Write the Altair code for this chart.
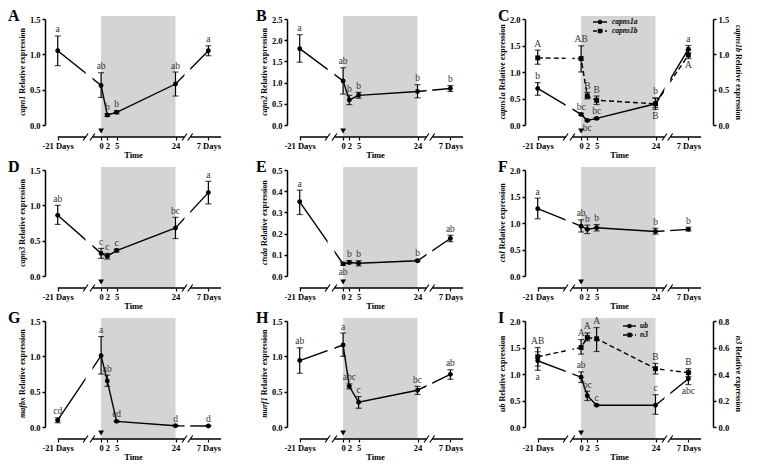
import altair as alt
import pandas as pd

FONT = "Liberation Serif"

# ---------------- shared x layout (broken time axis) ----------------
TIME_LABELS = ["-21 Days", "0", "2", "5", "24", "7 Days"]
TIME_POS = [-14.0, 0.0, 2.0, 5.0, 24.0, 34.6]
SHADE = [0.0, 24.0]
BREAKS = [-5.0, -2.8, 26.9, 28.75]
AXIS_SEG_START = [-14.0, -2.8, 28.75]
AXIS_SEG_END = [-5.0, 26.9, 38.7]

# ---------------- data ----------------
# A capn1
capn1_mean = [1.05, 0.56, 0.14, 0.18, 0.58, 1.05]
capn1_lo = [0.84, 0.39, 0.12, 0.16, 0.41, 0.98]
capn1_hi = [1.26, 0.74, 0.16, 0.20, 0.75, 1.12]
capn1_sig = ["a", "ab", "b", "b", "ab", "a"]
capn1_side = ["up", "up", "up", "up", "up", "up"]

# B capn2
capn2_mean = [1.80, 1.04, 0.59, 0.70, 0.79, 0.86]
capn2_lo = [1.48, 0.73, 0.48, 0.63, 0.64, 0.79]
capn2_hi = [2.13, 1.35, 0.70, 0.77, 0.95, 0.93]
capn2_sig = ["a", "ab", "b", "b", "b", "b"]
capn2_side = ["up", "up", "up", "up", "up", "up"]

# C capns1a (left axis) and capns1b (right axis)
capns1a_mean = [0.69, 0.20, 0.085, 0.125, 0.40, 1.43]
capns1a_lo = [0.56, 0.18, 0.07, 0.11, 0.33, 1.36]
capns1a_hi = [0.80, 0.22, 0.10, 0.14, 0.51, 1.50]
capns1a_sig = ["b", "bc", "bc", "bc", "b", "a"]
capns1a_side = ["up", "up", "down", "up", "up", "up"]

capns1b_mean = [0.95, 0.94, 0.41, 0.35, 0.30, 0.99]
capns1b_lo = [0.86, 0.75, 0.37, 0.29, 0.22, 0.94]
capns1b_hi = [1.06, 1.12, 0.46, 0.41, 0.38, 1.06]
capns1b_sig = ["A", "AB", "B", "B", "B", "A"]
capns1b_side = ["up", "up", "up", "up", "down", "down"]

# D capn3
capn3_mean = [0.86, 0.32, 0.28, 0.36, 0.68, 1.18]
capn3_lo = [0.73, 0.25, 0.24, 0.34, 0.53, 1.02]
capn3_hi = [1.00, 0.39, 0.32, 0.38, 0.83, 1.34]
capn3_sig = ["ab", "c", "c", "c", "bc", "a"]
capn3_side = ["up", "up", "up", "up", "up", "up"]

# E ctsda
ctsda_mean = [0.35, 0.057, 0.064, 0.060, 0.072, 0.177]
ctsda_lo = [0.29, 0.050, 0.058, 0.048, 0.068, 0.162]
ctsda_hi = [0.405, 0.064, 0.072, 0.072, 0.076, 0.192]
ctsda_sig = ["a", "ab", "b", "b", "b", "ab"]
ctsda_side = ["up", "down", "up", "up", "up", "up"]

# F ctsl
ctsl_mean = [1.27, 0.94, 0.88, 0.91, 0.84, 0.88]
ctsl_lo = [1.08, 0.83, 0.80, 0.85, 0.79, 0.85]
ctsl_hi = [1.47, 1.06, 0.96, 0.97, 0.90, 0.92]
ctsl_sig = ["a", "ab", "b", "b", "b", "b"]
ctsl_side = ["up", "up", "up", "up", "up", "up"]

# G mafbx
mafbx_mean = [0.096, 1.01, 0.65, 0.08, 0.018, 0.014]
mafbx_lo = [0.06, 0.75, 0.575, 0.07, 0.01, 0.008]
mafbx_hi = [0.13, 1.28, 0.735, 0.09, 0.026, 0.02]
mafbx_sig = ["cd", "a", "ab", "cd", "d", "d"]
mafbx_side = ["up", "up", "up", "up", "up", "up"]

# H murf1
murf1_mean = [0.94, 1.16, 0.575, 0.35, 0.52, 0.745]
murf1_lo = [0.76, 1.00, 0.54, 0.265, 0.46, 0.675]
murf1_hi = [1.12, 1.33, 0.61, 0.43, 0.575, 0.81]
murf1_sig = ["ab", "a", "abc", "c", "bc", "ab"]
murf1_side = ["up", "up", "up", "up", "up", "up"]

# I ub (left axis) and n3 (right axis)
ub_mean = [1.25, 0.94, 0.59, 0.41, 0.41, 0.91]
ub_lo = [1.07, 0.84, 0.50, 0.40, 0.24, 0.80]
ub_hi = [1.42, 1.04, 0.675, 0.42, 0.61, 1.03]
ub_sig = ["a", "ab", "bc", "c", "c", "abc"]
ub_side = ["down", "up", "up", "up", "up", "down"]

n3_mean = [0.53, 0.60, 0.675, 0.666, 0.44, 0.41]
n3_lo = [0.46, 0.55, 0.65, 0.57, 0.40, 0.38]
n3_hi = [0.60, 0.66, 0.71, 0.75, 0.48, 0.44]
n3_sig = ["AB", "A", "A", "A", "B", "B"]
n3_side = ["up", "up", "up", "up", "up", "up"]

# y axis ticks
TICKS_15 = [0.0, 0.5, 1.0, 1.5]
TICKS_20 = [0.0, 0.5, 1.0, 1.5, 2.0]
TICKS_25 = [0.0, 0.5, 1.0, 1.5, 2.0, 2.5]
TICKS_05 = [0.0, 0.1, 0.2, 0.3, 0.4, 0.5]
TICKS_08 = [0.0, 0.2, 0.4, 0.6, 0.8]

# ---------------- layout ----------------
PX = 3.1
H = 106
XMIN = -18.1
LETTER_X = [37, 31, 27]
WIDTHS = [176, 176, 188]
TICK_FS = 8.5

BOLD_W = {
    "a": 500, "b": 556, "c": 444, "d": 556, "e": 444, "f": 333, "g": 500, "h": 556,
    "i": 278, "j": 333, "k": 556, "l": 278, "m": 833, "n": 556, "o": 500, "p": 556,
    "q": 556, "r": 444, "s": 389, "t": 333, "u": 556, "v": 500, "w": 722, "x": 500,
    "y": 500, "z": 444, " ": 250, "R": 722,
}


def text_width(s, size):
    return sum(BOLD_W.get(ch, 500) for ch in s) / 1000.0 * size


LABEL_EXPR = " : ".join(
    f"abs(datum.value - ({p})) < 0.01 ? '{l}'" for p, l in zip(TIME_POS, TIME_LABELS)
) + " : ''"


def x_axis():
    return alt.Axis(
        values=TIME_POS, labelExpr=LABEL_EXPR, offset=12, domain=False,
        tickSize=3, tickWidth=1.2, tickColor="black",
        labelFont=FONT, labelFontSize=TICK_FS, labelFontWeight="bold", labelColor="black",
        labelPadding=1, labelOverlap=False, labelFlush=False, grid=False,
        title="Time", titleFont=FONT, titleFontSize=8.5, titleFontWeight="bold",
        titleColor="black", titlePadding=1,
    )


def y_axis(values, orient):
    return alt.Axis(
        orient=orient, values=values, format=".1f", title=None, grid=False,
        domainColor="black", domainWidth=1.5, tickColor="black", tickWidth=1.5, tickSize=3,
        labelFont=FONT, labelFontSize=TICK_FS, labelFontWeight="bold", labelColor="black",
        labelPadding=2,
    )


def series_layer(mean, lo, hi, sig, side, xs, ydom, yticks, orient, dashed, shape):
    df = pd.DataFrame({"t": TIME_POS, "m": mean, "lo": lo, "hi": hi, "sig": sig, "side": side})
    base = alt.Chart(df)
    ysc = alt.Scale(domain=ydom, nice=False, zero=False)
    XA = x_axis()
    YA = y_axis(yticks, orient)
    X = alt.X("t:Q", scale=xs, axis=XA)

    def Y(f):
        return alt.Y(f, scale=ysc, axis=YA)

    line_kw = dict(color="black", strokeWidth=1.4)
    if dashed:
        line_kw["strokeDash"] = [5, 3]
    line = base.mark_line(**line_kw).encode(x=X, y=Y("m:Q"))
    bar = base.mark_rule(color="black", strokeWidth=1.2).encode(x=X, y=Y("lo:Q"), y2="hi:Q")
    cap_lo = base.mark_tick(color="black", orient="horizontal", size=6, thickness=1.2).encode(
        x=X, y=Y("lo:Q"))
    cap_hi = base.mark_tick(color="black", orient="horizontal", size=6, thickness=1.2).encode(
        x=X, y=Y("hi:Q"))
    pts = base.mark_point(shape=shape, filled=True, size=24, color="black", opacity=1).encode(
        x=X, y=Y("m:Q"))
    up = base.transform_filter("datum.side == 'up'").mark_text(
        font=FONT, fontSize=9.5, color="#333333", baseline="bottom", dy=-1.5).encode(
        x=X, y=Y("hi:Q"), text="sig:N")
    dn = base.transform_filter("datum.side == 'down'").mark_text(
        font=FONT, fontSize=9.5, color="#333333", baseline="top", dy=1.5).encode(
        x=X, y=Y("lo:Q"), text="sig:N")
    return alt.layer(line, bar, cap_lo, cap_hi, pts, up, dn)


def title_layers(gene, xpos, side):
    rest = "Relative expression"
    wg = text_width(gene, 8)
    wr = text_width(rest, 8)
    gap = 2.0
    style = dict(font=FONT, fontSize=8, fontWeight="bold", color="black", baseline="middle")
    if side == "left":
        split = H / 2 + (wr - wg) / 2
        g = alt.Chart(pd.DataFrame({"s": [gene]})).mark_text(
            angle=270, align="right", fontStyle="italic", **style).encode(
            x=alt.value(xpos), y=alt.value(split + gap / 2), text="s:N")
        r = alt.Chart(pd.DataFrame({"s": [rest]})).mark_text(
            angle=270, align="left", **style).encode(
            x=alt.value(xpos), y=alt.value(split - gap / 2), text="s:N")
    else:
        split = H / 2 - (wr - wg) / 2
        g = alt.Chart(pd.DataFrame({"s": [gene]})).mark_text(
            angle=90, align="right", fontStyle="italic", **style).encode(
            x=alt.value(xpos), y=alt.value(split - gap / 2), text="s:N")
        r = alt.Chart(pd.DataFrame({"s": [rest]})).mark_text(
            angle=90, align="left", **style).encode(
            x=alt.value(xpos), y=alt.value(split + gap / 2), text="s:N")
    return [g, r]


def legend_layers(names, dashes, shapes, x0, x1, xt, ys):
    out = []
    for name, dashed, shape, yy in zip(names, dashes, shapes, ys):
        df = pd.DataFrame({"s": [name]})
        kw = dict(color="black", strokeWidth=1.4)
        if dashed:
            kw["strokeDash"] = [4, 2]
        out.append(alt.Chart(df).mark_rule(**kw).encode(
            x=alt.value(x0), x2=alt.value(x1), y=alt.value(yy)))
        out.append(alt.Chart(df).mark_point(shape=shape, filled=True, size=20, color="black",
                                            opacity=1).encode(
            x=alt.value((x0 + x1) / 2), y=alt.value(yy)))
        out.append(alt.Chart(df).mark_text(font=FONT, fontSize=7.5, fontWeight="bold",
                                           fontStyle="italic", color="black", align="left",
                                           baseline="middle").encode(
            x=alt.value(xt), y=alt.value(yy), text="s:N"))
    return out


def panel(col, letter, left, right=None, legend=None):
    w = WIDTHS[col]
    xs = alt.Scale(domain=[XMIN, XMIN + w / PX], nice=False, zero=False)
    XA = x_axis()
    bg = alt.Chart(pd.DataFrame({"a": [SHADE[0]], "b": [SHADE[1]]})).mark_rect(
        color="#d4d4d4").encode(
        x=alt.X("a:Q", scale=xs, axis=XA), x2="b:Q",
        y=alt.value(-3), y2=alt.value(H + 12))
    layers = [bg, series_layer(*left["data"], xs, left["dom"], left["ticks"], "left",
                               False, "circle")]
    if right is not None:
        layers.append(series_layer(*right["data"], xs, right["dom"], right["ticks"], "right",
                                   True, "square"))
    gap_df = pd.DataFrame({"g0": [BREAKS[0], BREAKS[2]], "g1": [BREAKS[1], BREAKS[3]]})
    gaps = alt.Chart(gap_df).mark_rect(color="white").encode(
        x=alt.X("g0:Q", scale=xs, axis=XA), x2="g1:Q",
        y=alt.value(-4), y2=alt.value(H + 9))
    seg_df = pd.DataFrame({"s0": AXIS_SEG_START, "s1": AXIS_SEG_END})
    segs = alt.Chart(seg_df).mark_rule(color="black", strokeWidth=1.5).encode(
        x=alt.X("s0:Q", scale=xs, axis=XA), x2="s1:Q", y=alt.value(H + 12))
    sl_df = pd.DataFrame({"b": BREAKS})
    slashes = alt.Chart(sl_df).transform_calculate(
        b0="datum.b - 0.8", b1="datum.b + 0.8").mark_rule(color="black", strokeWidth=1.2).encode(
        x=alt.X("b0:Q", scale=xs, axis=XA), x2="b1:Q",
        y=alt.value(H + 15.5), y2=alt.value(H + 8.5))
    tri = alt.Chart(pd.DataFrame({"t": [0.0]})).mark_point(
        shape="triangle-down", filled=True, size=34, color="black", opacity=1).encode(
        x=alt.X("t:Q", scale=xs, axis=XA), y=alt.value(H + 6))
    let = alt.Chart(pd.DataFrame({"s": [letter]})).mark_text(
        font=FONT, fontSize=16, fontWeight="bold", color="black", align="left",
        baseline="alphabetic").encode(x=alt.value(-LETTER_X[col]), y=alt.value(2), text="s:N")
    extra = [gaps, segs, slashes, tri, let]
    extra += title_layers(left["gene"], -22, "left")
    if right is not None:
        extra += title_layers(right["gene"], w + 25, "right")
    if legend is not None:
        extra += legend
    ch = alt.layer(*layers, *extra).properties(width=w, height=H)
    if right is not None:
        ch = ch.resolve_scale(y="independent")
    return ch


A = panel(0, "A", dict(data=(capn1_mean, capn1_lo, capn1_hi, capn1_sig, capn1_side),
                        dom=[0, 1.5], ticks=TICKS_15, gene="capn1"))
B = panel(1, "B", dict(data=(capn2_mean, capn2_lo, capn2_hi, capn2_sig, capn2_side),
                        dom=[0, 2.5], ticks=TICKS_25, gene="capn2"))
C = panel(2, "C",
          dict(data=(capns1a_mean, capns1a_lo, capns1a_hi, capns1a_sig, capns1a_side),
               dom=[0, 2.0], ticks=TICKS_20, gene="capns1a"),
          dict(data=(capns1b_mean, capns1b_lo, capns1b_hi, capns1b_sig, capns1b_side),
               dom=[0, 1.5], ticks=TICKS_15, gene="capns1b"),
          legend_layers(["capns1a", "capns1b"], [False, True], ["circle", "square"],
                        68, 82, 87, [3, 12]))
D = panel(0, "D", dict(data=(capn3_mean, capn3_lo, capn3_hi, capn3_sig, capn3_side),
                        dom=[0, 1.5], ticks=TICKS_15, gene="capn3"))
E = panel(1, "E", dict(data=(ctsda_mean, ctsda_lo, ctsda_hi, ctsda_sig, ctsda_side),
                        dom=[0, 0.5], ticks=TICKS_05, gene="ctsda"))
F = panel(2, "F", dict(data=(ctsl_mean, ctsl_lo, ctsl_hi, ctsl_sig, ctsl_side),
                        dom=[0, 2.0], ticks=TICKS_20, gene="ctsl"))
G = panel(0, "G", dict(data=(mafbx_mean, mafbx_lo, mafbx_hi, mafbx_sig, mafbx_side),
                        dom=[0, 1.5], ticks=TICKS_15, gene="mafbx"))
Hp = panel(1, "H", dict(data=(murf1_mean, murf1_lo, murf1_hi, murf1_sig, murf1_side),
                         dom=[0, 1.5], ticks=TICKS_15, gene="murf1"))
I = panel(2, "I",
          dict(data=(ub_mean, ub_lo, ub_hi, ub_sig, ub_side),
               dom=[0, 2.0], ticks=TICKS_20, gene="ub"),
          dict(data=(n3_mean, n3_lo, n3_hi, n3_sig, n3_side),
               dom=[0, 0.8], ticks=TICKS_08, gene="n3"),
          legend_layers(["ub", "n3"], [False, True], ["circle", "square"],
                        98, 111, 115, [5, 14]))

chart = alt.vconcat(
    alt.hconcat(A, B, C, spacing=34),
    alt.hconcat(D, E, F, spacing=34),
    alt.hconcat(G, Hp, I, spacing=34),
    spacing=0,
).properties(
    padding={"left": 0, "top": 0, "right": 0, "bottom": 0},
    background="white",
).configure_view(stroke=None)

chart.save("out.html", embed_options={"renderer": "svg", "actions": False})
